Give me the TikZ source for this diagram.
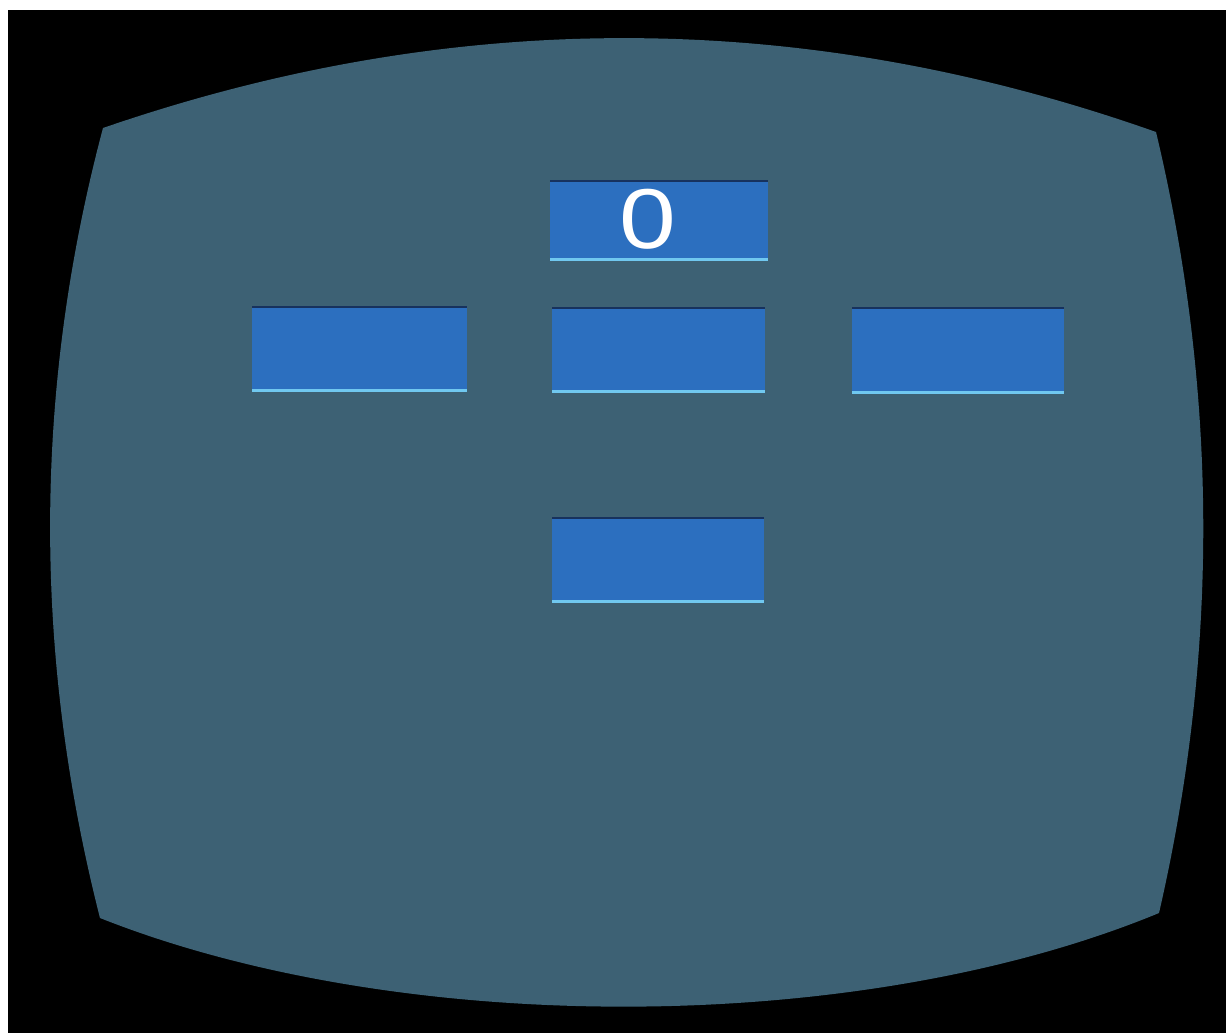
\documentclass[tikz,border=0pt]{standalone}
\usepackage{fontspec}
\newfontfamily\digitfont{Liberation Sans}
\definecolor{screencol}{HTML}{3D6174}
\definecolor{boxcol}{HTML}{2C6FBF}
\definecolor{hlcol}{HTML}{70C8F0}
\definecolor{topcol}{HTML}{17325E}
\tikzset{
  panel/.style={fill=boxcol, draw=none, inner sep=0pt, minimum width=#1, minimum height=85pt,
    path picture={
      \fill[hlcol] ([yshift=0pt]path picture bounding box.south west) rectangle ([yshift=3pt]path picture bounding box.south east);
      \fill[topcol] ([yshift=-2pt]path picture bounding box.north west) rectangle (path picture bounding box.north east);
    }},
  panel/.default=213pt,
  digit/.style={text=white, inner sep=0pt, font=\digitfont\fontsize{85}{85}\selectfont, xscale=1.2}
}
\begin{document}
\begin{tikzpicture}[x=1pt,y=-1pt]
\useasboundingbox (0,0) rectangle (1226,1033);
\fill[white] (0,0) rectangle (1226,1033);
\fill[black] (8,10) rectangle (1226,1033);
% CRT screen face
\fill[screencol] (103,128) .. controls (454,7) and (805,8) .. (1156,132)
  .. controls (1218,392) and (1219,652) .. (1159,913)
  .. controls (859,1037) and (400,1037) .. (100,918)
  .. controls (33,655) and (33,391) .. cycle;
% panels
\node[panel=218pt, minimum height=81pt] (top) at (659,220.5) {};
\node[panel=215pt, minimum height=86pt] (left) at (359.5,348.5) {};
\node[panel=213pt, minimum height=86pt] (middle) at (658.5,350) {};
\node[panel=212pt, minimum height=87pt] (right) at (958,350.5) {};
\node[panel=212pt, minimum height=86pt] (bottom) at (658,560) {};
\node[digit] (zero) at (647.5,219) {0};
\end{tikzpicture}
\end{document}
